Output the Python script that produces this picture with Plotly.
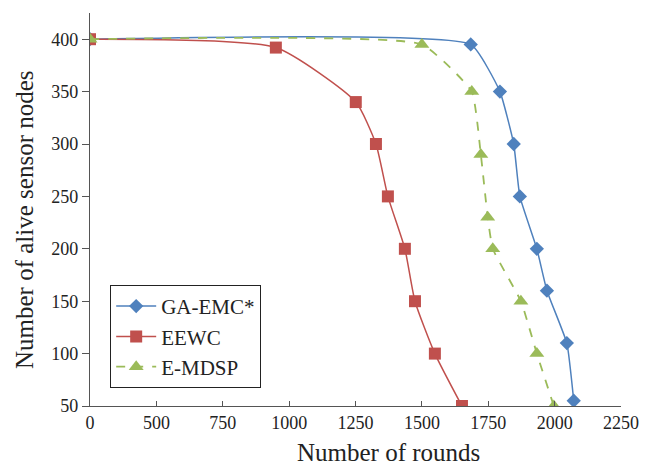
import plotly.graph_objects as go

# Data
ga_rounds = [0, 1684, 1794, 1846, 1869, 1933, 1971, 2046, 2072]
ga_alive = [400, 395, 350, 300, 250, 200, 160, 110, 55]

eewc_rounds = [0, 950, 1251, 1327, 1372, 1436, 1474, 1549, 1651]
eewc_alive = [400, 392, 340, 300, 250, 200, 150, 100, 50]

emdsp_rounds = [0, 1500, 1688, 1722, 1748, 1767, 1873, 1933, 1997]
emdsp_alive = [400, 395, 350, 290, 230, 200, 150, 100, 50]

x_tick_vals = [250, 500, 750, 1000, 1250, 1500, 1750, 2000, 2250]
x_tick_text = ["0", "500", "750", "1000", "1250", "1500", "1750", "2000", "2250"]
y_tick_vals = [50, 100, 150, 200, 250, 300, 350, 400]

AXIS_BREAK = 250  # the axis is broken: 0 is drawn at the 250 position


def to_axis(xs):
    return [max(v, AXIS_BREAK) for v in xs]


FONT = "Liberation Serif"
blue, red, green = "#4F81BD", "#C0504D", "#9BBB59"

fig = go.Figure()
fig.add_trace(go.Scatter(
    x=to_axis(ga_rounds), y=ga_alive, name="GA-EMC*", mode="lines+markers",
    line=dict(color=blue, width=1.5, shape="spline", smoothing=0.4),
    marker=dict(symbol="diamond", size=11, color=blue)))
fig.add_trace(go.Scatter(
    x=to_axis(eewc_rounds), y=eewc_alive, name="EEWC", mode="lines+markers",
    line=dict(color=red, width=1.5, shape="spline", smoothing=0.55),
    marker=dict(symbol="square", size=12, color=red)))
fig.add_trace(go.Scatter(
    x=to_axis(emdsp_rounds), y=emdsp_alive, name="E-MDSP", mode="lines+markers",
    line=dict(color=green, width=1.8, dash="dash", shape="spline", smoothing=0.4),
    marker=dict(symbol="triangle-up", size=13, color=green)))

fig.update_layout(
    width=651, height=469,
    margin=dict(l=90, r=30, t=13, b=63),
    paper_bgcolor="white", plot_bgcolor="white",
    font=dict(family=FONT, size=18, color="#222"),
    showlegend=True,
    legend=dict(x=0.038, y=0.308, xanchor="left", yanchor="top",
                bordercolor="#222", borderwidth=1, bgcolor="white",
                font=dict(family=FONT, size=21, color="#222"),
                tracegroupgap=0, itemwidth=40),
    xaxis=dict(range=[250, 2250], tickmode="array", tickvals=x_tick_vals,
               ticktext=x_tick_text, ticks="inside", ticklen=5, tickcolor="#555",
               showline=True, linecolor="#555", linewidth=1.2, showgrid=False,
               zeroline=False, tickfont=dict(family=FONT, size=18, color="#222")),
    yaxis=dict(range=[50, 425], tickmode="array", tickvals=y_tick_vals,
               ticks="outside", ticklen=7, tickcolor="#555",
               showline=True, linecolor="#555", linewidth=1.2, showgrid=False,
               zeroline=False, tickfont=dict(family=FONT, size=18, color="#222")),
    annotations=[
        dict(text="Number of rounds", xref="paper", yref="paper",
             x=(388 - 90) / 531, y=-(452 - 406) / 393, xanchor="center", yanchor="middle",
             showarrow=False, font=dict(family=FONT, size=25, color="#222")),
        dict(text="Number of alive sensor nodes", xref="paper", yref="paper",
             x=(24 - 90) / 531, y=(406 - 220) / 393, xanchor="center",
             yanchor="middle", textangle=-90, showarrow=False,
             font=dict(family=FONT, size=25, color="#222")),
    ],
)

fig.write_html("out.html")
